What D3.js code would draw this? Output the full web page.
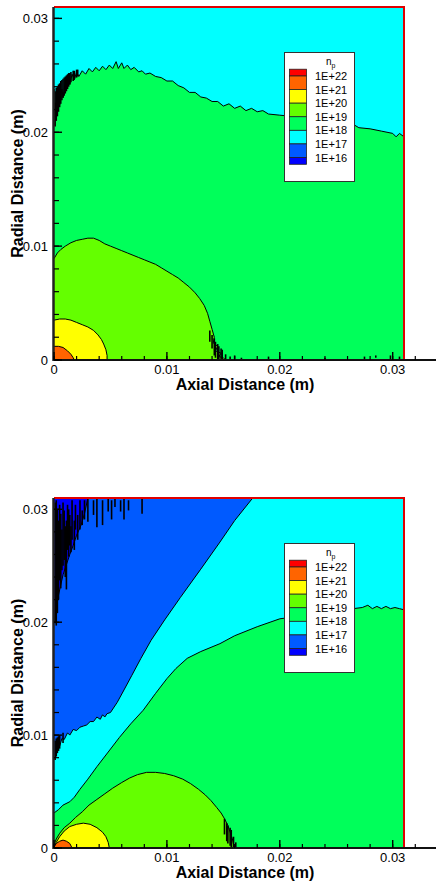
<!DOCTYPE html>
<html>
<head>
<meta charset="utf-8">
<script src="https://cdn.jsdelivr.net/npm/d3@7"></script>
<style>
  body { margin: 0; background: #fff; }
  text { font-family: "Liberation Sans", Arial, sans-serif; }
</style>
</head>
<body>
<div id="chart"></div>
<script>
// legend levels (log10 of n_p) and band colours, top (>1E+22) to bottom (<1E+16)
var levelLabels = ["1E+22", "1E+21", "1E+20", "1E+19", "1E+18", "1E+17", "1E+16"]
var levelExp = [22, 21, 20, 19, 18, 17, 16]
var bandColors = ["#ff0000", "#ff6400", "#ffff00", "#64ff00", "#00ff5a", "#00ffff", "#005aff", "#0000ff"]

var axisTicks = [0, 0.01, 0.02, 0.03]
var axisTickLabels = ["0", "0.01", "0.02", "0.03"]

// ---- upper plot: contour lines [axial, radial] in metres
var top18 = [[0, 0.0212], [0.0001, 0.0226], [0.0002, 0.0219], [0.0004, 0.0232], [0.0005, 0.0224], [0.0007, 0.0238],
    [0.0008, 0.0231], [0.0010, 0.0243], [0.0011, 0.0237], [0.0013, 0.0248], [0.0014, 0.0242], [0.0016, 0.0251],
    [0.0018, 0.0246], [0.0020, 0.0253], [0.0022, 0.0249], [0.0025, 0.0254], [0.0028, 0.0251], [0.0031, 0.0256],
    [0.0034, 0.0253], [0.0037, 0.0257], [0.0040, 0.0254], [0.0043, 0.0258], [0.0046, 0.0255], [0.0049, 0.0259],
    [0.0052, 0.0256], [0.0055, 0.0262], [0.0057, 0.0256], [0.0060, 0.0261], [0.0062, 0.0256], [0.0065, 0.0259],
    [0.0068, 0.0255], [0.0071, 0.0257], [0.0075, 0.0253], [0.0078, 0.0254], [0.0081, 0.0251], [0.0085, 0.0252],
    [0.0090, 0.0249], [0.0095, 0.0248], [0.0100, 0.0245], [0.0105, 0.0245], [0.0110, 0.0241], [0.0115, 0.0239],
    [0.0120, 0.0235], [0.0125, 0.0235], [0.0130, 0.0231], [0.0135, 0.0230], [0.0140, 0.0227], [0.0145, 0.0227],
    [0.0150, 0.0223], [0.0155, 0.0225], [0.0160, 0.0221], [0.0165, 0.0223], [0.0170, 0.0219], [0.0175, 0.0221],
    [0.0180, 0.0218], [0.0185, 0.0219], [0.0190, 0.0216], [0.0200, 0.0215], [0.0210, 0.0214], [0.0220, 0.0212],
    [0.0230, 0.0211], [0.0240, 0.0209], [0.0250, 0.0207], [0.0255, 0.0208], [0.0260, 0.0205], [0.0265, 0.0207],
    [0.0270, 0.0204], [0.0280, 0.0203], [0.0290, 0.0201], [0.0300, 0.0199], [0.0303, 0.0196], [0.0306, 0.0199],
    [0.0310, 0.0196]]
var top19 = [[0, 0.0089], [0.0003, 0.0094], [0.0006, 0.0097], [0.0010, 0.0100], [0.0015, 0.0103], [0.0020, 0.0105],
    [0.0025, 0.0106], [0.0030, 0.0107], [0.0035, 0.0107], [0.0040, 0.0105], [0.0045, 0.0102], [0.0050, 0.0100],
    [0.0055, 0.0098], [0.0060, 0.0096], [0.0065, 0.0094], [0.0070, 0.0092], [0.0075, 0.0090], [0.0080, 0.0088],
    [0.0085, 0.0086], [0.0090, 0.0084], [0.0095, 0.0081], [0.0100, 0.0078], [0.0105, 0.0075], [0.0110, 0.0072],
    [0.0115, 0.0068], [0.0120, 0.0064], [0.0125, 0.0059], [0.0129, 0.0054], [0.0133, 0.0048], [0.0136, 0.0041],
    [0.0138, 0.0034], [0.0140, 0.0027], [0.0142, 0.0020], [0.0141, 0.0015], [0.0145, 0.0012], [0.0143, 0.0008],
    [0.0148, 0.0006], [0.0146, 0.0003], [0.0150, 0.0002], [0.0152, 0]]
var top20 = [[0, 0.0035], [0.0005, 0.0036], [0.0010, 0.0036], [0.0015, 0.0035], [0.0020, 0.0033], [0.0025, 0.0031],
    [0.0030, 0.0029], [0.0035, 0.0026], [0.0039, 0.0022], [0.0042, 0.0018], [0.0044, 0.0014], [0.0046, 0.0009],
    [0.0047, 0.0004], [0.0047, 0]]
var top21 = [[0, 0.0012], [0.0004, 0.0012], [0.0008, 0.0011], [0.0012, 0.0008], [0.0015, 0.0005], [0.0017, 0.0002], [0.0018, 0]]
// black noise streaks [axial, r from, r to]
var topNoise = [[0.0000, 0.0238, 0.0206], [0.0001, 0.0236, 0.0205], [0.0002, 0.0239, 0.0210], [0.0003, 0.0240, 0.0214],
    [0.0004, 0.0242, 0.0218], [0.0005, 0.0243, 0.0222], [0.0006, 0.0245, 0.0225], [0.0007, 0.0246, 0.0228],
    [0.0008, 0.0247, 0.0230], [0.0009, 0.0248, 0.0232], [0.0010, 0.0249, 0.0234], [0.0011, 0.0250, 0.0236],
    [0.0012, 0.0251, 0.0238], [0.0013, 0.0252, 0.0240], [0.0014, 0.0252, 0.0242], [0.0015, 0.0253, 0.0244],
    [0.0017, 0.0254, 0.0245], [0.0018, 0.0254, 0.0247], [0.0020, 0.0255, 0.0248], [0.0021, 0.0255, 0.0249],
    [0.0138, 0.0026, 0.0016], [0.0140, 0.0022, 0.0010], [0.0142, 0.0019, 0.0004], [0.0143, 0.0016, 0.0002],
    [0.0145, 0.0014, 0], [0.0146, 0.0012, 0], [0.0148, 0.0010, 0], [0.0149, 0.0009, 0], [0.0152, 0.0005, 0],
    [0.0156, 0.0003, 0], [0.0160, 0.0004, 0], [0.0166, 0.0002, 0], [0.0190, 0.0003, 0], [0.0240, 0.0002, 0],
    [0.0275, 0.0003, 0], [0.0285, 0.0004, 0.0002], [0.0298, 0.0004, 0], [0.0306, 0.0003, 0]]

// ---- lower plot
var bot16 = [[0.0030, 0.031], [0.0027, 0.0296], [0.0024, 0.0286], [0.0020, 0.0277], [0.0017, 0.0268], [0.0014, 0.0260],
    [0.0011, 0.0251], [0.0008, 0.0242], [0.0006, 0.0233], [0.0004, 0.0224], [0.0002, 0.0214], [0.0001, 0.0206], [0, 0.0200]]
var bot17 = [[0.0176, 0.031], [0.0160, 0.0290], [0.0147, 0.0271], [0.0130, 0.0247], [0.0112, 0.0222], [0.0098, 0.0202],
    [0.0086, 0.0184], [0.0077, 0.0168], [0.0069, 0.0153], [0.0062, 0.0140], [0.0056, 0.0129], [0.0050, 0.0120],
    [0.0047, 0.0119], [0.0045, 0.0116], [0.0043, 0.0118], [0.0041, 0.0114], [0.0038, 0.0116], [0.0035, 0.0112],
    [0.0032, 0.0112], [0.0029, 0.0109], [0.0026, 0.0108], [0.0023, 0.0107], [0.0020, 0.0104], [0.0017, 0.0105],
    [0.0014, 0.0100], [0.0012, 0.0102], [0.0009, 0.0096], [0.0007, 0.0097], [0.0005, 0.0090], [0.0003, 0.0089],
    [0.0002, 0.0083], [0, 0.0078]]
var bot18 = [[0.0310, 0.0211], [0.0306, 0.0212], [0.0302, 0.0213], [0.0298, 0.0212], [0.0294, 0.0214], [0.0290, 0.0212],
    [0.0286, 0.0214], [0.0282, 0.0212], [0.0278, 0.0215], [0.0273, 0.0213], [0.0265, 0.0212], [0.0255, 0.0211],
    [0.0245, 0.0209], [0.0230, 0.0207], [0.0215, 0.0205], [0.0200, 0.0203], [0.0180, 0.0196], [0.0160, 0.0188],
    [0.0147, 0.0181], [0.0130, 0.0174], [0.0118, 0.0168], [0.0108, 0.0159], [0.0100, 0.0150], [0.0090, 0.0137],
    [0.0079, 0.0122], [0.0068, 0.0110], [0.0058, 0.0098], [0.0048, 0.0085], [0.0038, 0.0072], [0.0030, 0.0061],
    [0.0023, 0.0052], [0.0018, 0.0045], [0.0014, 0.0041], [0.0008, 0.0038], [0.0004, 0.0034], [0, 0.0031]]
var bot19 = [[0, 0.0003], [0.0002, 0.0008], [0.0005, 0.0013], [0.0009, 0.0018], [0.0014, 0.0022], [0.0019, 0.0027],
    [0.0025, 0.0032], [0.0031, 0.0038], [0.0038, 0.0043], [0.0045, 0.0048], [0.0052, 0.0053], [0.0060, 0.0058],
    [0.0067, 0.0062], [0.0074, 0.0065], [0.0082, 0.0067], [0.0090, 0.0067], [0.0098, 0.0066], [0.0106, 0.0064],
    [0.0114, 0.0061], [0.0121, 0.0057], [0.0128, 0.0052], [0.0134, 0.0047], [0.0139, 0.0042], [0.0144, 0.0036],
    [0.0148, 0.0031], [0.0151, 0.0026], [0.0154, 0.0020], [0.0156, 0.0014], [0.0158, 0.0008], [0.0159, 0.0003], [0.0160, 0]]
var bot20 = [[0, 0.0001], [0.0002, 0.0005], [0.0005, 0.0010], [0.0009, 0.0015], [0.0014, 0.0019], [0.0020, 0.0021],
    [0.0026, 0.0022], [0.0032, 0.0021], [0.0038, 0.0018], [0.0043, 0.0014], [0.0046, 0.0010], [0.0048, 0.0005], [0.0049, 0]]
var bot21 = [[0, 0.0001], [0.0002, 0.0004], [0.0005, 0.0006], [0.0008, 0.0007], [0.0011, 0.0006], [0.0014, 0.0004], [0.0016, 0]]
var botNoise = [[0.0030, 0.031, 0.0289], [0.0035, 0.0308, 0.0295], [0.0038, 0.031, 0.0284], [0.0043, 0.0308, 0.0286],
    [0.0048, 0.031, 0.0298], [0.0051, 0.0308, 0.0291], [0.0054, 0.031, 0.0302], [0.0059, 0.0308, 0.0298],
    [0.0062, 0.031, 0.0291], [0.0066, 0.0308, 0.0299], [0.0078, 0.031, 0.0296], [0.0001, 0.0306, 0.0199],
    [0.0002, 0.0308, 0.0197], [0.0003, 0.0300, 0.0208], [0.0004, 0.0290, 0.0220], [0.0005, 0.0304, 0.0237],
    [0.0006, 0.0296, 0.0230], [0.0007, 0.0282, 0.0246], [0.0008, 0.0306, 0.0250], [0.0009, 0.0299, 0.0255],
    [0.0010, 0.0285, 0.0240], [0.0011, 0.0290, 0.0229], [0.0012, 0.0304, 0.0264], [0.0013, 0.0300, 0.0258],
    [0.0014, 0.0295, 0.0268], [0.0015, 0.0285, 0.0262], [0.0016, 0.0308, 0.0273], [0.0018, 0.0290, 0.0264],
    [0.0019, 0.0304, 0.0282], [0.0021, 0.0295, 0.0273], [0.0023, 0.0308, 0.0282], [0.0025, 0.0299, 0.0286],
    [0.0027, 0.0308, 0.0291], [0.0001, 0.0095, 0.0078], [0.0002, 0.0097, 0.0081], [0.0003, 0.0098, 0.0084],
    [0.0004, 0.0099, 0.0086], [0.0005, 0.0100, 0.0088], [0.0008, 0.0102, 0.0093], [0.0151, 0.0026, 0.0012],
    [0.0153, 0.0022, 0.0006], [0.0154, 0.0020, 0.0004], [0.0156, 0.0018, 0.0002], [0.0157, 0.0016, 0],
    [0.0159, 0.0010, 0], [0.0161, 0.0005, 0]]

var W = 436, H = 886

var svg = d3.select("#chart")
    .append("svg")
    .attr("width", W)
    .attr("height", H)

var x = d3.scaleLinear()
    .domain([0, 0.031])
    .range([54, 404])

var panels = [
    { top: 7, bottom: 360, bg: 5, regions: [
        { pts: top18.concat([[0.031, 0], [0, 0]]), band: 4 },
        { pts: top19.concat([[0, 0]]), band: 3 },
        { pts: top20.concat([[0, 0]]), band: 2 },
        { pts: top21.concat([[0, 0]]), band: 1 }],
      lines: [top18, top19, top20, top21], noise: topNoise },
    { top: 498, bottom: 848, bg: 4, regions: [
        { pts: bot18.concat([[0, 0.031], [0.031, 0.031]]), band: 5 },
        { pts: bot17.concat([[0, 0.031]]), band: 6 },
        { pts: bot16.concat([[0, 0.031]]), band: 7 },
        { pts: bot19.concat([[0, 0]]), band: 3 },
        { pts: bot20.concat([[0, 0]]), band: 2 },
        { pts: bot21.concat([[0, 0]]), band: 1 }],
      lines: [bot16, bot17, bot18, bot19, bot20, bot21], noise: botNoise }
]

panels.forEach(function(p, k) {
    var y = d3.scaleLinear()
        .domain([0, 0.031])
        .range([p.bottom, p.top])

    var g = svg.append("g")

    g.append("clipPath").attr("id", "clip" + k)
        .append("rect")
        .attr("x", x(0)).attr("y", y(0.031))
        .attr("width", x(0.031) - x(0)).attr("height", y(0) - y(0.031))

    var plot = g.append("g").attr("clip-path", "url(#clip" + k + ")")

    var line = d3.line().x(d => x(d[0])).y(d => y(d[1]))

    // background band
    plot.append("rect")
        .attr("x", x(0)).attr("y", y(0.031))
        .attr("width", x(0.031) - x(0)).attr("height", y(0) - y(0.031))
        .attr("fill", bandColors[p.bg])

    // filled contour regions
    plot.selectAll("path.region")
        .data(p.regions)
        .enter()
        .append("path")
        .attr("class", "region")
        .attr("d", d => line(d.pts) + "Z")
        .attr("fill", d => bandColors[d.band])

    // contour lines
    plot.selectAll("path.cline")
        .data(p.lines)
        .enter()
        .append("path")
        .attr("class", "cline")
        .attr("d", d => line(d))
        .attr("fill", "none")
        .attr("stroke", "#000")
        .attr("stroke-width", 1)

    // numerical noise
    plot.selectAll("line.noise")
        .data(p.noise)
        .enter()
        .append("line")
        .attr("x1", d => x(d[0])).attr("x2", d => x(d[0]))
        .attr("y1", d => y(d[1])).attr("y2", d => y(d[2]))
        .attr("stroke", "#000")
        .attr("stroke-width", 1.6)

    // red boundary, top and right
    g.append("path")
        .attr("d", "M" + x(0) + "," + y(0.031) + "H" + x(0.031) + "V" + y(0))
        .attr("fill", "none")
        .attr("stroke", "#e00000")
        .attr("stroke-width", 2)

    // axes
    g.append("line")
        .attr("x1", x(0) - 1).attr("x2", W)
        .attr("y1", y(0)).attr("y2", y(0))
        .attr("stroke", "#111").attr("stroke-width", 2)
    g.append("line")
        .attr("x1", x(0) - 0.5).attr("x2", x(0) - 0.5)
        .attr("y1", y(0.031)).attr("y2", y(0) + 1)
        .attr("stroke", "#222").attr("stroke-width", 2.5)

    var minor = d3.range(0, 0.0335, 0.002)
    g.selectAll("line.xminor").data(minor).enter().append("line")
        .attr("x1", d => x(d)).attr("x2", d => x(d))
        .attr("y1", y(0)).attr("y2", y(0) - 4)
        .attr("stroke", "#000").attr("stroke-width", 1.2)
    g.selectAll("line.xmajor").data(axisTicks).enter().append("line")
        .attr("x1", d => x(d)).attr("x2", d => x(d))
        .attr("y1", y(0)).attr("y2", y(0) - 8)
        .attr("stroke", "#000").attr("stroke-width", 1.4)
    g.selectAll("line.yminor").data(minor.filter(d => d <= 0.031)).enter().append("line")
        .attr("x1", x(0)).attr("x2", x(0) + 5)
        .attr("y1", d => y(d)).attr("y2", d => y(d))
        .attr("stroke", "#000").attr("stroke-width", 1.2)
    g.selectAll("line.ymajor").data(axisTicks).enter().append("line")
        .attr("x1", x(0)).attr("x2", x(0) + 8)
        .attr("y1", d => y(d)).attr("y2", d => y(d))
        .attr("stroke", "#000").attr("stroke-width", 1.4)

    g.selectAll("text.xtick").data(axisTicks).enter().append("text")
        .attr("x", d => x(d)).attr("y", y(0) + 14)
        .attr("text-anchor", "middle")
        .style("font-size", "13px")
        .text((d, i) => axisTickLabels[i])
    g.selectAll("text.ytick").data(axisTicks).enter().append("text")
        .attr("x", 48).attr("y", d => y(d) + 4.5)
        .attr("text-anchor", "end")
        .style("font-size", "13px")
        .text((d, i) => axisTickLabels[i])

    g.append("text")
        .attr("x", (x(0) + W) / 2).attr("y", y(0) + 30)
        .attr("text-anchor", "middle")
        .style("font-size", "16px").style("font-weight", "bold")
        .text("Axial Distance (m)")
    g.append("text")
        .attr("transform", "translate(23," + (p.top + p.bottom) / 2 + ") rotate(-90)")
        .attr("text-anchor", "middle")
        .style("font-size", "16px").style("font-weight", "bold")
        .text("Radial Distance (m)")

    // legend
    var lg = g.append("g").attr("transform", "translate(0," + (p.top - 7) + ")")
    lg.append("rect")
        .attr("x", 284.5).attr("y", 52.5).attr("width", 70).attr("height", 129)
        .attr("fill", "#fff").attr("stroke", "#333").attr("stroke-width", 1)
    var ly = d3.scaleLinear().domain([22, 16]).range([76, 157.5])
    var cells = bandColors.map(function(c, i) {
        var hi = i === 0 ? 22.5 : levelExp[i - 1]
        var lo = i === bandColors.length - 1 ? 15.5 : levelExp[i]
        return { c: c, y0: ly(hi), y1: ly(lo) }
    })
    lg.selectAll("rect.cell").data(cells).enter().append("rect")
        .attr("x", 289.5).attr("y", d => d.y0).attr("width", 17).attr("height", d => d.y1 - d.y0)
        .attr("fill", d => d.c).attr("stroke", "#222").attr("stroke-width", 0.8)
    lg.selectAll("text.lev").data(levelLabels).enter().append("text")
        .attr("x", 315).attr("y", (d, i) => ly(levelExp[i]) + 4)
        .style("font-size", "11px")
        .text(d => d)
    var title = lg.append("text").attr("x", 326).attr("y", 65).style("font-size", "10px")
    title.append("tspan").text("n")
    title.append("tspan").attr("dy", 3).style("font-size", "7px").text("p")
})
</script>
</body>
</html>
